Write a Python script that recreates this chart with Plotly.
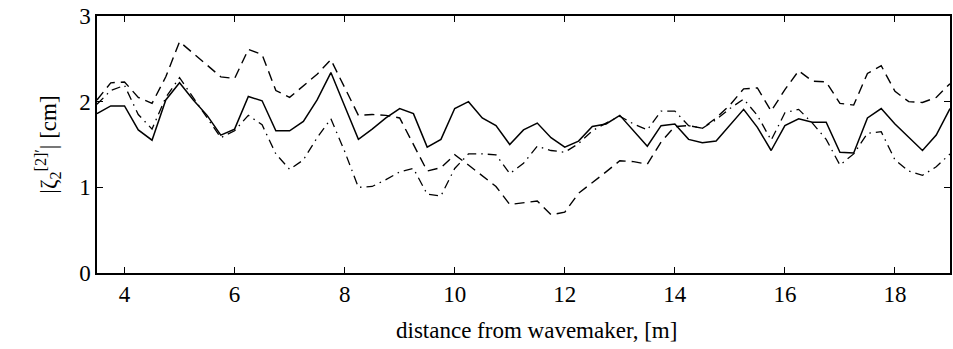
import plotly.graph_objects as go

# Measurement positions along the flume [m]
distance = [3.5, 3.75, 4.0, 4.25, 4.5, 4.75, 5.0, 5.25, 5.5, 5.75,
            6.0, 6.25, 6.5, 6.75, 7.0, 7.25, 7.5, 7.75, 8.0, 8.25,
            8.5, 8.75, 9.0, 9.25, 9.5, 9.75, 10.0, 10.25, 10.5, 10.75,
            11.0, 11.25, 11.5, 11.75, 12.0, 12.25, 12.5, 12.75, 13.0, 13.25,
            13.5, 13.75, 14.0, 14.25, 14.5, 14.75, 15.0, 15.25, 15.5, 15.75,
            16.0, 16.25, 16.5, 16.75, 17.0, 17.25, 17.5, 17.75, 18.0, 18.25,
            18.5, 18.75, 19.0]

# Second-order amplitude [cm], three cases
amp_solid = [1.86, 1.95, 1.95, 1.67, 1.55, 2.02, 2.22, 2.02, 1.84, 1.61,
             1.68, 2.06, 2.01, 1.66, 1.66, 1.77, 2.02, 2.34, 1.95, 1.56,
             1.68, 1.81, 1.92, 1.86, 1.47, 1.56, 1.92, 2.00, 1.81, 1.72,
             1.50, 1.67, 1.75, 1.58, 1.47, 1.54, 1.71, 1.74, 1.84, 1.66,
             1.48, 1.72, 1.74, 1.56, 1.52, 1.54, 1.72, 1.91, 1.70, 1.43,
             1.72, 1.80, 1.76, 1.76, 1.41, 1.40, 1.81, 1.92, 1.74, 1.58,
             1.43, 1.61, 1.92]

amp_dashed = [2.02, 2.22, 2.23, 2.05, 1.98, 2.29, 2.70, 2.56, 2.43, 2.29,
              2.27, 2.61, 2.55, 2.13, 2.05, 2.19, 2.32, 2.49, 2.16, 1.84,
              1.85, 1.84, 1.81, 1.50, 1.19, 1.23, 1.38, 1.26, 1.14, 1.01,
              0.80, 0.82, 0.84, 0.68, 0.71, 0.93, 1.05, 1.18, 1.31, 1.30,
              1.27, 1.53, 1.71, 1.72, 1.69, 1.81, 1.96, 2.15, 2.16, 1.89,
              2.14, 2.36, 2.24, 2.23, 1.98, 1.96, 2.33, 2.42, 2.12, 2.00,
              1.99, 2.05, 2.21]

amp_dashdot = [1.97, 2.13, 2.19, 1.85, 1.68, 2.05, 2.28, 2.05, 1.82, 1.58,
               1.66, 1.84, 1.73, 1.39, 1.21, 1.32, 1.58, 1.80, 1.42, 1.00,
               1.01, 1.09, 1.18, 1.22, 0.92, 0.90, 1.22, 1.39, 1.39, 1.38,
               1.16, 1.28, 1.48, 1.43, 1.41, 1.51, 1.66, 1.75, 1.83, 1.74,
               1.67, 1.89, 1.89, 1.72, 1.69, 1.79, 1.92, 2.03, 1.84, 1.55,
               1.87, 1.91, 1.75, 1.56, 1.26, 1.39, 1.63, 1.65, 1.32, 1.19,
               1.14, 1.24, 1.39]

x_ticks = [4, 6, 8, 10, 12, 14, 16, 18]
y_ticks = [0, 1, 2, 3]

FONT = "Liberation Serif"
FS = 23

fig = go.Figure()
fig.add_trace(go.Scatter(x=distance, y=amp_solid, mode="lines",
                         line=dict(color="black", width=1.5)))
fig.add_trace(go.Scatter(x=distance, y=amp_dashed, mode="lines",
                         line=dict(color="black", width=1.4, dash="10px,6px")))
fig.add_trace(go.Scatter(x=distance, y=amp_dashdot, mode="lines",
                         line=dict(color="black", width=1.3, dash="9px,5px,1.5px,5px")))

fig.update_layout(
    width=953, height=349,
    margin=dict(l=97, r=1, t=16, b=76),
    paper_bgcolor="white", plot_bgcolor="white",
    showlegend=False,
    font=dict(family=FONT, size=FS, color="black"),
    annotations=[dict(
        text="distance from wavemaker, [m]", xref="paper", yref="paper",
        x=0.515, y=-0.222, xanchor="center", yanchor="middle",
        showarrow=False, font=dict(family=FONT, size=FS),
    )],
)
fig.update_xaxes(
    range=[3.5, 19], tickvals=x_ticks, ticks="inside", ticklen=6, tickwidth=1,
    tickcolor="black", showline=True, linecolor="black", linewidth=1.5,
    mirror="ticks", showgrid=False, zeroline=False,
    tickfont=dict(family=FONT, size=FS),
)
fig.update_yaxes(
    range=[0, 3], tickvals=y_ticks, ticks="inside", ticklen=6, tickwidth=1,
    tickcolor="black", showline=True, linecolor="black", linewidth=1.5,
    mirror="ticks", showgrid=False, zeroline=False,
    tickfont=dict(family=FONT, size=FS),
    title=dict(text="|ζ<sub>2</sub><sup>[2]′</sup>| [cm]", standoff=16,
               font=dict(family=FONT, size=FS)),
)

fig.write_html("out.html")
